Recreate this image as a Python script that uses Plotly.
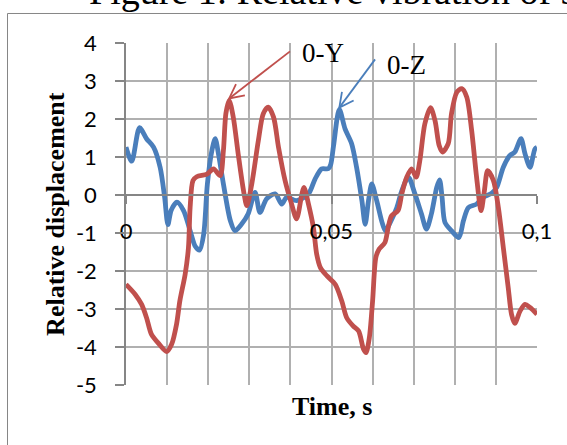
import math
import plotly.graph_objects as go

# 0-Y series: time (s) and relative displacement
t_y = [0.0000, 0.0022, 0.0038, 0.0050, 0.0062, 0.0078, 0.0099, 0.0111, 0.0123, 0.0131,
       0.0144, 0.0152, 0.0156, 0.0163, 0.0172, 0.0197, 0.0213, 0.0229, 0.0237, 0.0243,
       0.0251, 0.0261, 0.0273, 0.0286, 0.0294, 0.0306, 0.0322, 0.0334, 0.0346, 0.0359,
       0.0371, 0.0387, 0.0403, 0.0415, 0.0428, 0.0433, 0.0444, 0.0456, 0.0464, 0.0473,
       0.0489, 0.0509, 0.0525, 0.0537, 0.0553, 0.0566, 0.0578, 0.0584, 0.0592, 0.0600,
       0.0608, 0.0616, 0.0630, 0.0638, 0.0646, 0.0662, 0.0671, 0.0683, 0.0695, 0.0706,
       0.0715, 0.0727, 0.0741, 0.0752, 0.0762, 0.0770, 0.0784, 0.0792, 0.0805, 0.0817,
       0.0829, 0.0841, 0.0853, 0.0864, 0.0872, 0.0880, 0.0894, 0.0906, 0.0918, 0.0930,
       0.0938, 0.0946, 0.0959, 0.0971, 0.0983, 0.1000]
disp_y = [-2.35, -2.61, -2.88, -3.23, -3.67, -3.89, -4.12, -3.93, -3.40, -2.79,
          -2.08, -1.38, -0.33, 0.38, 0.48, 0.55, 0.69, 0.51, 1.17, 2.14,
          2.49, 2.05, 1.08, 0.11, -0.28, 0.29, 1.43, 2.14, 2.31, 2.05,
          1.26, 0.38, -0.24, -0.63, 0.03, 0.20, -0.24, -0.86, -1.56, -1.91,
          -2.13, -2.35, -2.79, -3.23, -3.45, -3.58, -4.06, -4.15, -3.76, -2.79,
          -1.64, -1.42, -1.25, -0.85, -0.55, -0.41, 0.03, 0.47, 0.69, 0.47,
          0.91, 1.87, 2.30, 1.95, 1.30, 1.13, 1.35, 2.14, 2.71, 2.80,
          2.58, 1.70, 0.47, -0.41, 0.11, 0.64, 0.38, -0.33, -1.38, -2.44,
          -3.14, -3.38, -3.05, -2.88, -2.96, -3.14]

# 0-Z series: time (s) and relative displacement
t_z = [0.0000, 0.0014, 0.0033, 0.0050, 0.0067, 0.0083, 0.0094, 0.0102, 0.0110, 0.0124,
       0.0140, 0.0156, 0.0168, 0.0179, 0.0189, 0.0198, 0.0209, 0.0217, 0.0225, 0.0237,
       0.0254, 0.0265, 0.0281, 0.0297, 0.0314, 0.0326, 0.0342, 0.0363, 0.0379, 0.0391,
       0.0415, 0.0444, 0.0460, 0.0476, 0.0492, 0.0498, 0.0505, 0.0519, 0.0533, 0.0549,
       0.0561, 0.0574, 0.0582, 0.0590, 0.0598, 0.0610, 0.0623, 0.0631, 0.0643, 0.0659,
       0.0671, 0.0687, 0.0703, 0.0719, 0.0731, 0.0743, 0.0756, 0.0763, 0.0769, 0.0776,
       0.0792, 0.0810, 0.0821, 0.0833, 0.0853, 0.0869, 0.0890, 0.0902, 0.0918, 0.0934,
       0.0946, 0.0961, 0.0971, 0.0983, 0.0995, 0.1000]
disp_z = [1.26, 0.89, 1.77, 1.48, 1.26, 0.73, -0.06, -0.78, -0.40, -0.19,
          -0.41, -0.94, -1.34, -1.45, -1.03, 0.29, 1.17, 1.48, 1.08, 0.29,
          -0.68, -0.94, -0.77, -0.50, 0.07, -0.46, -0.10, 0.03, -0.24, -0.06,
          -0.15, 0.03, 0.42, 0.69, 0.69, 0.80, 1.30, 2.25, 1.74, 1.35,
          0.73, -0.15, -0.77, -0.15, 0.29, -0.15, -0.72, -0.94, -0.72, -0.33,
          0.11, 0.47, 0.03, -0.50, -0.90, -0.50, 0.20, 0.40, -0.06, -0.72,
          -0.94, -1.12, -0.68, -0.33, -0.24, -0.06, 0.05, 0.20, 0.73, 1.04,
          1.13, 1.48, 1.08, 0.73, 1.21, 1.25]

# Axis ticks
y_ticks = [4, 3, 2, 1, 0, -1, -2, -3, -4, -5]
y_tick_text = ["4", "3", "2", "1", "0", "-1", "-2", "-3", "-4", "-5"]
x_ticks = [0, 0.05, 0.1]
x_tick_text = ["0", "0,05", "0,1"]

RED = "#C0504D"
BLUE = "#4A7EBB"
GRID = "#b0b0b0"
AXIS = "#868686"

W, H = 567, 445
MARGIN = dict(l=126, r=30, t=43, b=60)
X_RANGE = [0, 0.1]
Y_RANGE = [-5, 4]
# pixels per data unit, used to draw the callout arrowheads with a fixed on-screen shape
PX_X = (W - MARGIN["l"] - MARGIN["r"]) / (X_RANGE[1] - X_RANGE[0])
PX_Y = (H - MARGIN["t"] - MARGIN["b"]) / (Y_RANGE[1] - Y_RANGE[0])

fig = go.Figure()
fig.add_trace(go.Scatter(x=t_z, y=disp_z, mode="lines", name="0-Z",
                         line=dict(color=BLUE, width=4.8, shape="spline", smoothing=0.8)))
fig.add_trace(go.Scatter(x=t_y, y=disp_y, mode="lines", name="0-Y",
                         line=dict(color=RED, width=4.8, shape="spline", smoothing=0.8)))

# Peaks the callouts point at
iy = max(range(len(t_y)), key=lambda i: disp_y[i] if t_y[i] < 0.03 else -99)
iz = max(range(len(t_z)), key=lambda i: disp_z[i])


def callout(tip, tail, color, arm=16, spread=27):
    """Line from tail to tip finished with an open V arrowhead."""
    dx = (tail[0] - tip[0]) * PX_X
    dy = (tail[1] - tip[1]) * PX_Y
    n = math.hypot(dx, dy)
    ux, uy = dx / n, dy / n
    pts = []
    for s in (1, -1):
        a = math.radians(spread) * s
        rx = ux * math.cos(a) - uy * math.sin(a)
        ry = ux * math.sin(a) + uy * math.cos(a)
        pts.append((tip[0] + rx * arm / PX_X, tip[1] + ry * arm / PX_Y))
    line = dict(color=color, width=1.8)
    return [
        dict(type="line", xref="x", yref="y", x0=tail[0], y0=tail[1],
             x1=tip[0], y1=tip[1], line=line),
        dict(type="path", xref="x", yref="y", line=line,
             path=f"M{pts[0][0]},{pts[0][1]} L{tip[0]},{tip[1]} L{pts[1][0]},{pts[1][1]}"),
    ]


shapes = [dict(type="rect", xref="paper", yref="paper",
               x0=-0.2883, x1=1.3, y0=-0.3, y1=1.0863,
               line=dict(color=AXIS, width=1), fillcolor="rgba(0,0,0,0)",
               layer="below")]
shapes += callout((t_y[iy], disp_y[iy] + 0.05), (0.0399, 3.78), RED)
shapes += callout((t_z[iz], disp_z[iz] + 0.05), (0.0606, 3.57), BLUE)

annotations = [
    dict(x=0.0423, y=3.75, xref="x", yref="y", text="0-Y", showarrow=False,
         xanchor="left", yanchor="middle",
         font=dict(family="Liberation Serif", size=27, color="black")),
    dict(x=0.0630, y=3.43, xref="x", yref="y", text="0-Z", showarrow=False,
         xanchor="left", yanchor="middle",
         font=dict(family="Liberation Serif", size=27, color="black")),
    # axis titles
    dict(x=0.5, y=-0.064, xref="paper", yref="paper", text="<b>Time, s</b>",
         showarrow=False, xanchor="center", yanchor="middle",
         font=dict(family="Liberation Serif", size=26, color="black")),
    dict(x=-0.173, y=0.5, xref="paper", yref="paper", text="<b>Relative displacement</b>",
         showarrow=False, textangle=-90, xanchor="center", yanchor="middle",
         font=dict(family="Liberation Serif", size=26, color="black")),
    # figure caption above the chart frame
    dict(x=-0.095, y=1.152, xref="paper", yref="paper",
         text="Figure 1: Relative vibration of s", showarrow=False,
         xanchor="left", yanchor="middle",
         font=dict(family="Liberation Serif", size=38, color="black")),
]

fig.update_layout(
    width=W, height=H,
    margin=MARGIN,
    paper_bgcolor="white", plot_bgcolor="white",
    showlegend=False,
    annotations=annotations,
    shapes=shapes,
    xaxis=dict(range=X_RANGE, anchor="free", position=5 / 9,
               tickvals=x_ticks, ticktext=x_tick_text,
               showline=True, linecolor=AXIS, linewidth=1.5,
               ticks="outside", ticklen=8, tickcolor=AXIS, tickwidth=1.5,
               ticklabelstandoff=9,
               tickfont=dict(family="Lato", size=22, color="black"),
               showgrid=True, gridcolor=GRID, gridwidth=1.5, zeroline=False,
               minor=dict(dtick=0.01, tick0=0, showgrid=True, gridcolor=GRID,
                          gridwidth=1.5)),
    yaxis=dict(range=Y_RANGE, tickvals=y_ticks, ticktext=y_tick_text,
               showline=True, linecolor=AXIS, linewidth=1.5,
               ticks="outside", ticklen=9, tickcolor=AXIS, tickwidth=1.5,
               ticklabelstandoff=14,
               tickfont=dict(family="Lato", size=22, color="black"),
               showgrid=True, gridcolor=GRID, gridwidth=1.5, zeroline=False),
)

fig.write_html("out.html")
